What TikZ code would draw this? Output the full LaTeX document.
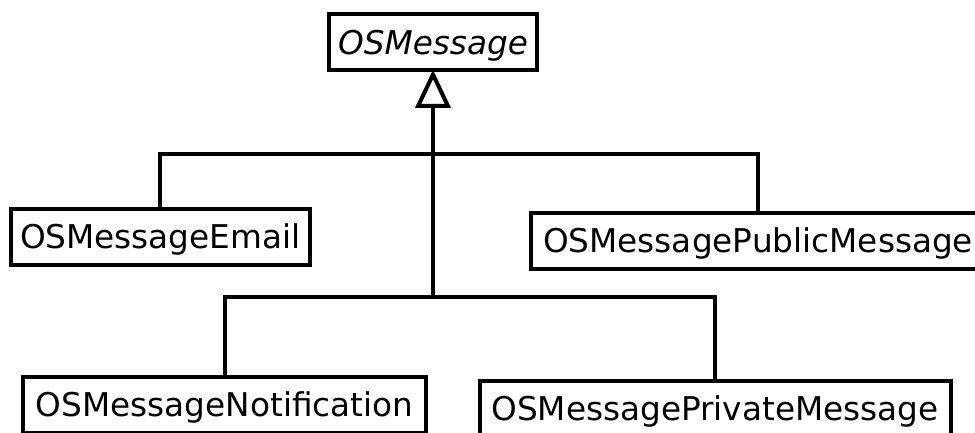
\documentclass[tikz,border=0pt]{standalone}
\usepackage{fontspec}
\setmainfont{DejaVu Sans}
\usetikzlibrary{arrows.meta}

\tikzset{
  umlclass/.style={draw, line width=4pt, fill=white, inner sep=0pt,
    minimum height=56pt, text height=23.8pt, text depth=0pt,
    font=\fontsize{32.7}{39}\selectfont},
  umllink/.style={line width=4pt, line join=miter},
  inherits/.style={umllink, shorten >=-2.5pt,
    -{Triangle[open, length=38pt, width=35pt, line join=miter]}}
}

\begin{document}
\begin{tikzpicture}[x=1pt, y=-1pt]
  \useasboundingbox (0,0) rectangle (975,432);
  \clip (0,0) rectangle (975,432);

  % classes
  \node[umlclass, minimum width=208pt, font=\fontsize{32.7}{39}\selectfont\itshape]
    (base) at (433,42.3) {OSMessage};
  \node[umlclass, minimum width=299.5pt] (email)  at (160.3,236.5) {OSMessageEmail};
  \node[umlclass, minimum width=454pt]   (public) at (758,241)     {OSMessagePublicMessage};
  \node[umlclass, minimum width=403.5pt] (notif)  at (224.7,405)   {OSMessageNotification};
  \node[umlclass, minimum width=471pt]   (priv)   at (715,409)     {OSMessagePrivateMessage};

  % junctions of the generalization tree
  \coordinate (j1) at (433,153.5);
  \coordinate (j2) at (433,297);

  % connectors
  \draw[umllink] (email.north) |- (j1) -| (public.north);
  \draw[umllink] (notif.north) |- (j2) -| (priv.north);
  \draw[inherits] (j2) -- (base.south);
\end{tikzpicture}
\end{document}
